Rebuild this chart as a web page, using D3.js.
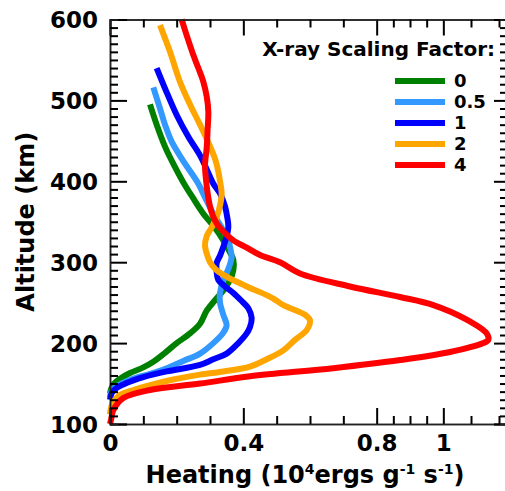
<!DOCTYPE html>
<html>
<head>
<meta charset="utf-8">
<script src="https://cdn.jsdelivr.net/npm/d3@7"></script>
<style>
  html, body { margin: 0; padding: 0; background: #fff; }
  svg { display: block; }
  text { font-family: "DejaVu Sans", sans-serif; font-weight: bold; fill: #000; }
</style>
</head>
<body>
<svg id="chart" width="505" height="491"></svg>
<script>
// ---- data (heating in 1e4 ergs/g/s vs altitude in km) ----
const seriesNames = ["0", "0.5", "1", "2", "4"];
const seriesColors = ["#008000", "#3399ff", "#0000ff", "#ffa500", "#ff0000"];

const alt0  = [495, 470, 441, 420, 395, 380, 360, 345, 327, 312, 303, 290, 278, 265, 253, 240, 224, 212, 200, 188, 177, 170, 163, 156, 150, 143, 138];
const heat0 = [0.12, 0.14, 0.167, 0.192, 0.225, 0.248, 0.28, 0.31, 0.34, 0.36, 0.37, 0.37, 0.36, 0.34, 0.315, 0.29, 0.27, 0.24, 0.20, 0.165, 0.13, 0.10, 0.06, 0.03, 0.012, 0.003, 0.0];

const alt05  = [516, 490, 470, 449, 425, 397, 380, 360, 343, 327, 315, 307, 295, 285, 278, 262, 250, 235, 222, 213, 200, 187, 178, 169, 162, 156, 150, 144, 138, 133];
const heat05 = [0.13, 0.15, 0.165, 0.185, 0.22, 0.265, 0.285, 0.31, 0.335, 0.355, 0.362, 0.365, 0.358, 0.348, 0.34, 0.33, 0.33, 0.34, 0.35, 0.34, 0.31, 0.27, 0.22, 0.17, 0.12, 0.07, 0.035, 0.01, 0.002, 0.0];

const alt1  = [540, 510, 482, 455, 432, 415, 397, 385, 369, 355, 344, 332, 319, 308, 299, 288, 278, 270, 262, 252, 243, 231, 220, 212, 200, 187, 180, 173, 165, 158, 154, 148, 143, 138, 130];
const heat1 = [0.14, 0.17, 0.20, 0.235, 0.27, 0.29, 0.31, 0.33, 0.345, 0.352, 0.355, 0.35, 0.34, 0.33, 0.32, 0.32, 0.325, 0.345, 0.37, 0.395, 0.415, 0.425, 0.42, 0.41, 0.385, 0.35, 0.31, 0.27, 0.17, 0.10, 0.07, 0.035, 0.015, 0.005, 0.0];

const alt2  = [593, 560, 523, 495, 470, 448, 428, 412, 400, 385, 370, 356, 343, 332, 320, 311, 300, 290, 281, 274, 268, 263, 255, 247, 235, 228, 216, 204, 191, 180, 171, 165, 161, 155, 148, 142, 136, 130, 126, 118, 112];
const heat2 = [0.15, 0.18, 0.21, 0.24, 0.27, 0.295, 0.315, 0.325, 0.33, 0.335, 0.33, 0.32, 0.305, 0.29, 0.285, 0.29, 0.30, 0.32, 0.355, 0.39, 0.42, 0.45, 0.49, 0.52, 0.585, 0.60, 0.59, 0.555, 0.52, 0.47, 0.42, 0.34, 0.27, 0.19, 0.12, 0.07, 0.03, 0.015, 0.008, 0.002, 0.0];

const alt4  = [600, 578, 556, 540, 523, 505, 486, 465, 441, 420, 402, 385, 369, 358, 348, 338, 327, 318, 309, 300, 286, 270, 257, 247, 229, 212, 204, 200, 189, 179, 169, 159, 150, 142, 132, 117, 105, 100];
const heat4 = [0.215, 0.232, 0.25, 0.265, 0.28, 0.29, 0.295, 0.293, 0.29, 0.285, 0.288, 0.293, 0.30, 0.308, 0.32, 0.34, 0.37, 0.41, 0.45, 0.51, 0.57, 0.72, 0.87, 0.97, 1.07, 1.13, 1.135, 1.12, 1.02, 0.87, 0.67, 0.42, 0.27, 0.12, 0.04, 0.01, 0.003, 0.0];

const altitudes = [alt0, alt05, alt1, alt2, alt4];
const heatings  = [heat0, heat05, heat1, heat2, heat4];

const xMajorTicks = [0, 0.4, 0.8, 1];
const xTickLabels = ["0", "0.4", "0.8", "1"];
const xMinorTicks = [0.1, 0.2, 0.3, 0.5, 0.6, 0.7, 0.85, 0.9, 0.95, 1.083, 1.167];
const yMajorTicks = [100, 200, 300, 400, 500, 600];
const yMinorTicks = d3.range(100, 601, 10).filter(v => v % 100 !== 0);

// ---- layout ----
const mLeft = 110, mRight = 510, mTop = 19.5, mBottom = 424;
const x = d3.scaleLinear().domain([0, 1.2]).range([mLeft, mRight]);
const y = d3.scaleLinear().domain([100, 600]).range([mBottom, mTop]);

const svg = d3.select("#chart");

// curves
const line = d3.line()
  .x(d => x(d[0]))
  .y(d => y(d[1]))
  .curve(d3.curveCatmullRom.alpha(0.5));

const g = svg.append("g");
seriesNames.forEach((name, i) => {
  const pts = heatings[i].map((h, j) => [h, altitudes[i][j]]);
  g.append("path")
    .datum(pts)
    .attr("d", line)
    .attr("fill", "none")
    .attr("stroke", seriesColors[i])
    .attr("stroke-width", 6)
    .attr("stroke-linejoin", "round");
});

// axes frame
const axisStroke = "#222";
const axB = svg.append("g").attr("transform", `translate(0,${mBottom})`)
  .call(d3.axisBottom(x).tickValues(xMajorTicks).tickSize(-16).tickFormat((d, i) => xTickLabels[i]).tickPadding(11));
const axBm = svg.append("g").attr("transform", `translate(0,${mBottom})`)
  .call(d3.axisBottom(x).tickValues(xMinorTicks).tickSize(-8).tickFormat(""));
const axT = svg.append("g").attr("transform", `translate(0,${mTop})`)
  .call(d3.axisTop(x).tickValues(xMajorTicks).tickSize(-16).tickFormat(""));
const axTm = svg.append("g").attr("transform", `translate(0,${mTop})`)
  .call(d3.axisTop(x).tickValues(xMinorTicks).tickSize(-8).tickFormat(""));
const axL = svg.append("g").attr("transform", `translate(${mLeft},0)`)
  .call(d3.axisLeft(y).tickValues(yMajorTicks).tickSize(-17).tickFormat(d3.format("d")).tickPadding(12));
const axLm = svg.append("g").attr("transform", `translate(${mLeft},0)`)
  .call(d3.axisLeft(y).tickValues(yMinorTicks).tickSize(-8).tickFormat(""));
const axR = svg.append("g").attr("transform", `translate(${mRight},0)`)
  .call(d3.axisRight(y).tickValues(yMajorTicks).tickSize(-16).tickFormat(""));
const axRm = svg.append("g").attr("transform", `translate(${mRight},0)`)
  .call(d3.axisRight(y).tickValues(yMinorTicks).tickSize(-10).tickFormat(""));

[axB, axBm, axT, axTm, axL, axLm, axR, axRm].forEach(a => {
  a.select(".domain").attr("stroke", axisStroke).attr("stroke-width", 1.5);
  a.selectAll(".tick line").attr("stroke", "#000").attr("stroke-width", 2);
});
[axB, axL].forEach(a => {
  a.selectAll(".tick text")
    .style("font-family", '"DejaVu Sans", sans-serif')
    .style("font-weight", "bold")
    .style("font-size", "23px")
    .attr("fill", "#000");
});
axL.selectAll(".tick text").attr("dy", "0.36em");

// axis titles
const xt = svg.append("text")
  .attr("x", (mLeft + 500) / 2)
  .attr("y", 483)
  .attr("text-anchor", "middle")
  .style("font-size", "24px");
xt.append("tspan").text("Heating (10");
xt.append("tspan").text("4").attr("dy", -9).style("font-size", "14px");
xt.append("tspan").text("ergs g").attr("dy", 9);
xt.append("tspan").text("-1").attr("dy", -9).style("font-size", "14px");
xt.append("tspan").text(" s").attr("dy", 9);
xt.append("tspan").text("-1").attr("dy", -9).style("font-size", "14px");
xt.append("tspan").text(")").attr("dy", 9);

svg.append("text")
  .attr("transform", `translate(34,${(mTop + mBottom) / 2}) rotate(-90)`)
  .attr("text-anchor", "middle")
  .style("font-size", "24px")
  .text("Altitude (km)");

// legend
svg.append("text")
  .attr("x", 495)
  .attr("y", 56)
  .attr("text-anchor", "end")
  .style("font-size", "20px")
  .text("X-ray Scaling Factor:");

const legendY = d3.scalePoint().domain(seriesNames).range([81, 165]);
const lg = svg.append("g");
seriesNames.forEach((name, i) => {
  lg.append("line")
    .attr("x1", 395).attr("x2", 445)
    .attr("y1", legendY(name)).attr("y2", legendY(name))
    .attr("stroke", seriesColors[i])
    .attr("stroke-width", 6);
  lg.append("text")
    .attr("x", 454)
    .attr("y", legendY(name))
    .attr("dy", "0.36em")
    .style("font-size", "18px")
    .text(name);
});
</script>
</body>
</html>
